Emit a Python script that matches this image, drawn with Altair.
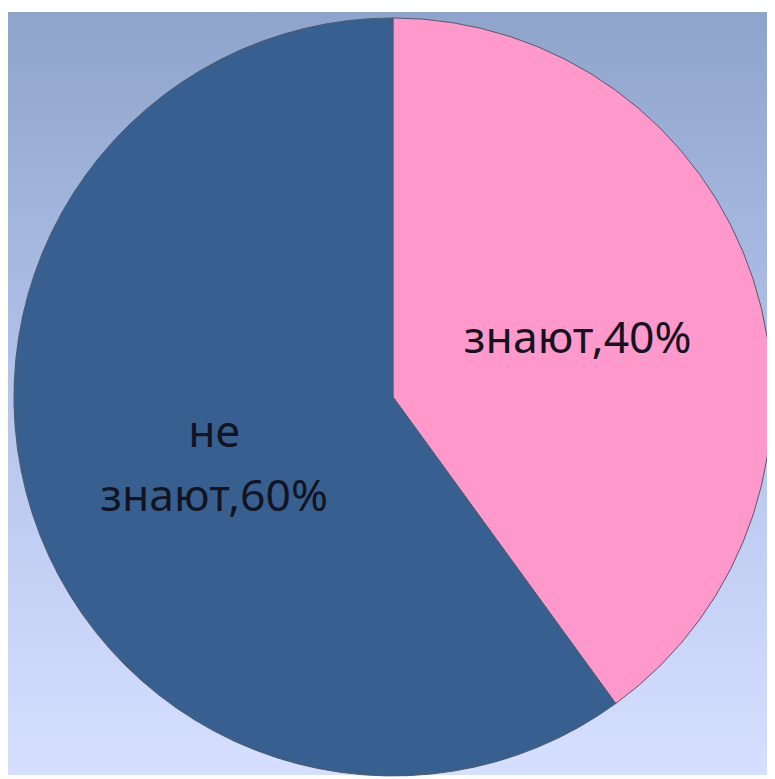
import altair as alt
import pandas as pd

categories = ["знают", "не знают"]
values = [40, 60]
labels = ["знают,40%", "не\nзнают,60%"]
colors = ["#ff99cc", "#376090"]

df = pd.DataFrame({"cat": categories, "val": values, "label": labels, "ord": [0, 1]})

W, H = 767, 771
CX, CY = 389, 389

bg = alt.Chart(pd.DataFrame({"a": [0]})).mark_rect(
    color=alt.LinearGradient(
        gradient="linear", x1=0, y1=0, x2=0, y2=1,
        stops=[alt.GradientStop(offset=0, color="#8ea4cb"),
               alt.GradientStop(offset=0.5, color="#b4c4ec"),
               alt.GradientStop(offset=1, color="#d6dfff")],
    )
).encode(x=alt.value(0), x2=alt.value(W), y=alt.value(0), y2=alt.value(H))

theta_scale = alt.Scale(domain=[0, 100])

pie = alt.Chart(df).mark_arc(radius=383, stroke="#4e5a6a", strokeWidth=1).encode(
    theta=alt.Theta("val:Q", stack=True, scale=theta_scale),
    order=alt.Order("ord:Q"),
    color=alt.Color("cat:N", scale=alt.Scale(domain=categories, range=colors), legend=None),
    x=alt.value(CX), y=alt.value(CY),
)

tbase = alt.Chart(df).transform_window(
    cum="sum(val)", sort=[alt.SortField("ord")]
).transform_calculate(mid="datum.cum - datum.val / 2")

text_style = dict(radius=190, fontSize=45, font="Noto Sans", color="#141420",
                  lineBreak="\n", lineHeight=65, align="center", baseline="middle")

enc = dict(theta=alt.Theta("mid:Q", stack=None, scale=theta_scale),
           text="label:N", x=alt.value(CX), y=alt.value(CY))

text1 = tbase.transform_filter(alt.datum.ord == 0).mark_text(dx=6, **text_style).encode(**enc)
text2 = tbase.transform_filter(alt.datum.ord == 1).mark_text(dy=-22, **text_style).encode(**enc)

chart = alt.layer(bg, pie, text1, text2).properties(
    width=W, height=H, padding=0, autosize=alt.AutoSizeParams(type="none")
).configure_view(stroke=None)

chart.save("out.html", embed_options={"renderer": "svg", "actions": False})
